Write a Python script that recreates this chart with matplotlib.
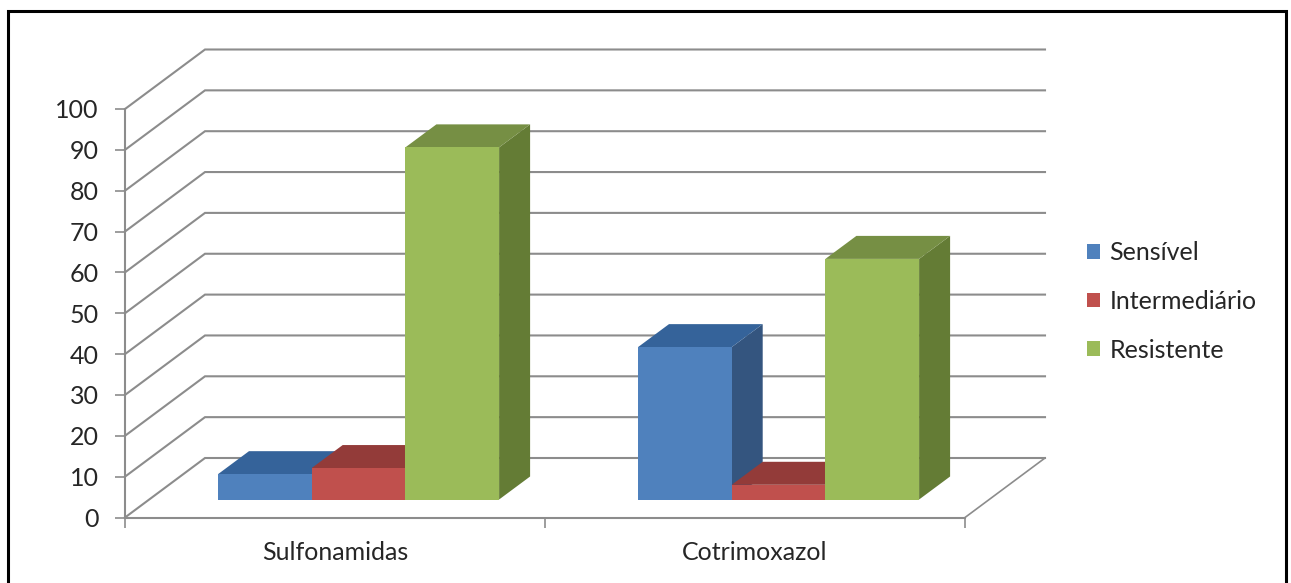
import matplotlib
matplotlib.use("Agg")
import matplotlib.pyplot as plt
from matplotlib.patches import Polygon, Patch, Rectangle

categories = ["Sulfonamidas", "Cotrimoxazol"]
series_names = ["Sensível", "Intermediário", "Resistente"]
sensivel = [6.2, 37.3]
intermediario = [7.7, 3.6]
resistente = [86.2, 58.9]
y_ticks = list(range(0, 101, 10))

front_colors = ["#4F81BD", "#C0504D", "#9BBB59"]
top_colors = ["#35639A", "#933B39", "#768F44"]
side_colors = ["#34557F", "#7F3230", "#647C35"]
GRID = "#8C8C8C"
TEXT = "#262626"

W, H = 1291, 583
plt.rcParams["font.family"] = ["Lato", "DejaVu Sans"]
fig = plt.figure(figsize=(W / 100, H / 100), dpi=100, facecolor="white")
ax = fig.add_axes([125 / W, (H - 517.5) / H, 840 / W, 408.5 / H])
ax.set_xlim(0, 2)
ax.set_ylim(0, 100)
ax.patch.set_alpha(0)

# Oblique projection: depth of the chart box and of each bar, in axis units
px_x = 2 / 840
px_y = 100 / 408.5
BOX_DX, BOX_DY = 80 * px_x, 59.5 * px_y
BAR_DX, BAR_DY = 31 * px_x, 23 * px_y
BAR_X0 = 93 * px_x
BAR_W = 93.7 * px_x
BAR_Y0 = 18 * px_y

# Side wall and back wall gridlines, plus the right edge of the floor
for v in y_ticks:
    ax.plot([0, BOX_DX, 2 + BOX_DX], [v, v + BOX_DY, v + BOX_DY],
            color=GRID, lw=1.5, clip_on=False, zorder=1, solid_joinstyle="miter")
ax.plot([2, 2 + BOX_DX], [0, BOX_DY], color=GRID, lw=1.2, clip_on=False, zorder=1)


def draw_bar(x, base, height, i, z):
    top = base + height
    w = BAR_W
    ax.add_patch(Polygon([(x + w, base), (x + w + BAR_DX, base + BAR_DY),
                          (x + w + BAR_DX, top + BAR_DY), (x + w, top)],
                         fc=side_colors[i], ec="none", clip_on=False, zorder=z))
    ax.add_patch(Polygon([(x, top), (x + BAR_DX, top + BAR_DY),
                          (x + w + BAR_DX, top + BAR_DY), (x + w, top)],
                         fc=top_colors[i], ec="none", clip_on=False, zorder=z))
    ax.add_patch(Rectangle((x, base), w, height, fc=front_colors[i], ec="none",
                           clip_on=False, zorder=z + 0.1))


for c in range(len(categories)):
    for i, values in enumerate([sensivel, intermediario, resistente]):
        draw_bar(c + BAR_X0 + i * BAR_W, BAR_Y0, values[c], i, 3 + i)

# Axes, ticks and labels
for name in ("top", "right"):
    ax.spines[name].set_visible(False)
for name in ("left", "bottom"):
    ax.spines[name].set_color(GRID)
    ax.spines[name].set_linewidth(1.5)
    ax.spines[name].set_zorder(2)

ax.set_yticks(y_ticks)
ax.tick_params(axis="y", length=7, width=1.2, color=GRID, pad=12, labelsize=18, labelcolor=TEXT)
ax.set_xticks([0, 1, 2])
ax.set_xticklabels([])
ax.set_xticks([0.5, 1.5], minor=True)
ax.set_xticklabels(categories, minor=True)
ax.tick_params(axis="x", which="major", length=7, width=1.2, color=GRID)
ax.tick_params(axis="x", which="minor", length=0, pad=17, labelsize=18, labelcolor=TEXT)

handles = [Patch(fc=c, ec="none", label=n) for c, n in zip(front_colors, series_names)]
fig.legend(handles=handles, loc="center left", bbox_to_anchor=(1087 / W, (H - 301.5) / H),
           frameon=False, fontsize=18, labelcolor=TEXT, handlelength=0.52, handleheight=0.52,
           handletextpad=0.38, labelspacing=1.02, borderpad=0, borderaxespad=0)

# Chart frame: its lower edge runs past the bottom of the canvas
fig.add_artist(Rectangle((8 / W, -10 / H), 1278 / W, (H - 11 + 10) / H, transform=fig.transFigure,
                         fill=False, ec="black", lw=2.2))

fig.savefig("out.png", dpi=100, facecolor="white")
